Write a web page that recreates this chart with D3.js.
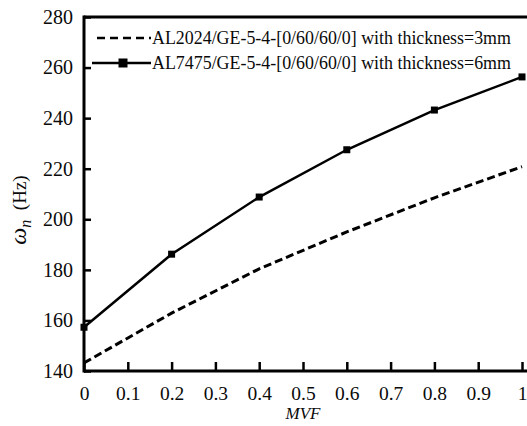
<!DOCTYPE html>
<html>
<head>
<meta charset="utf-8">
<script src="https://cdn.jsdelivr.net/npm/d3@7"></script>
<style>
  html, body { margin: 0; padding: 0; background: #fff; overflow: hidden; }
  svg { display: block; font-family: "Liberation Serif", "Times New Roman", serif; }
</style>
</head>
<body>
<svg id="chart" width="527" height="426"></svg>
<script>
// Natural frequency vs. MVF for two sandwich plates
const mvf = [0, 0.2, 0.4, 0.6, 0.8, 1.0];
const al2024 = [143.2, 162.9, 180.4, 195.0, 208.5, 220.8];
const al7475 = [157.3, 186.2, 208.8, 227.5, 243.2, 256.3];
const xTicks = [0, 0.1, 0.2, 0.3, 0.4, 0.5, 0.6, 0.7, 0.8, 0.9, 1];
const yTicks = [140, 160, 180, 200, 220, 240, 260, 280];
const legendLabels = [
  "AL2024/GE-5-4-[0/60/60/0] with thickness=3mm",
  "AL7475/GE-5-4-[0/60/60/0] with thickness=6mm"
];

const svg = d3.select("#chart");
const W = 527;
const x = d3.scaleLinear().domain([0, 1]).range([84, 522]);
const y = d3.scaleLinear().domain([140, 280]).range([371, 17]);
const ink = "#0a0a0a";

// frame: top border
const axisW = 3;
svg.append("line").attr("x1", x(0)).attr("x2", W + 5).attr("y1", y(280)).attr("y2", y(280))
  .attr("stroke", "#000").attr("stroke-width", axisW);

// x axis with inward ticks
const xAxis = svg.append("g").attr("transform", `translate(0,${y(140)})`)
  .call(d3.axisBottom(x).tickValues(xTicks).tickSizeInner(-9).tickSizeOuter(0)
    .tickFormat(d => d === 0 ? "0" : d === 1 ? "1" : d3.format(".1f")(d)));
xAxis.select(".domain").attr("d", `M${x(0)},0H${W + 5}`).attr("stroke-width", axisW);
xAxis.selectAll(".tick line").attr("stroke-width", 2.5);
xAxis.selectAll(".tick text").attr("y", 15).attr("dy", "0.71em")
  .attr("font-size", 19.5).attr("font-family", "Liberation Serif").attr("fill", ink);

// y axis with inward ticks
const yAxis = svg.append("g").attr("transform", `translate(${x(0)},0)`)
  .call(d3.axisLeft(y).tickValues(yTicks).tickSizeInner(-7).tickSizeOuter(0));
yAxis.select(".domain").attr("stroke-width", axisW).attr("d", `M0,${y(280) - 1.5}V${y(140) + 1.5}`);
yAxis.selectAll(".tick line").attr("stroke-width", 2.5);
yAxis.selectAll(".tick text").attr("x", -11).attr("font-size", 20)
  .attr("font-family", "Liberation Serif").attr("fill", ink);

// axis titles
svg.append("text")
  .attr("transform", `translate(26,${210}) rotate(-90)`)
  .attr("text-anchor", "middle").attr("font-size", 19).attr("fill", ink)
  .call(t => {
    t.append("tspan").attr("font-style", "italic").attr("font-size", 24).text("ω");
    t.append("tspan").attr("font-style", "italic").attr("font-size", 16).attr("dy", 5).text("n");
    t.append("tspan").attr("dy", -5).text("\u00a0 (Hz)");
  });
svg.append("text").attr("x", (x(0) + x(1)) / 2).attr("y", 419)
  .attr("text-anchor", "middle").attr("font-size", 17).attr("font-style", "italic")
  .attr("fill", ink).text("MVF");

const line = d3.line().x((d, i) => x(mvf[i])).y(d => y(d));

// series
svg.append("path").datum(al2024).attr("d", line).attr("fill", "none")
  .attr("stroke", "#000").attr("stroke-width", 3).attr("stroke-dasharray", "8,4");
svg.append("path").datum(al7475).attr("d", line).attr("fill", "none")
  .attr("stroke", "#000").attr("stroke-width", 2.5);
svg.selectAll("rect.mk").data(al7475).enter().append("rect").attr("class", "mk")
  .attr("x", (d, i) => x(mvf[i]) - 3.5).attr("y", d => y(d) - 3.5)
  .attr("width", 7).attr("height", 7).attr("fill", "#000");

// legend
const leg = svg.append("g");
const legY = [38, 63];
leg.append("line").attr("x1", 97).attr("x2", 151).attr("y1", legY[0]).attr("y2", legY[0])
  .attr("stroke", "#000").attr("stroke-width", 2.5).attr("stroke-dasharray", "8,5");
leg.append("line").attr("x1", 92).attr("x2", 151).attr("y1", legY[1]).attr("y2", legY[1])
  .attr("stroke", "#000").attr("stroke-width", 2.5);
leg.append("rect").attr("x", 118.5).attr("y", legY[1] - 4.5).attr("width", 9).attr("height", 9).attr("fill", "#000");
leg.selectAll("text").data(legendLabels).enter().append("text")
  .attr("x", 152).attr("y", (d, i) => legY[i]).attr("dy", "0.35em")
  .attr("font-size", 17.9).attr("fill", ink).text(d => d);
</script>
</body>
</html>
